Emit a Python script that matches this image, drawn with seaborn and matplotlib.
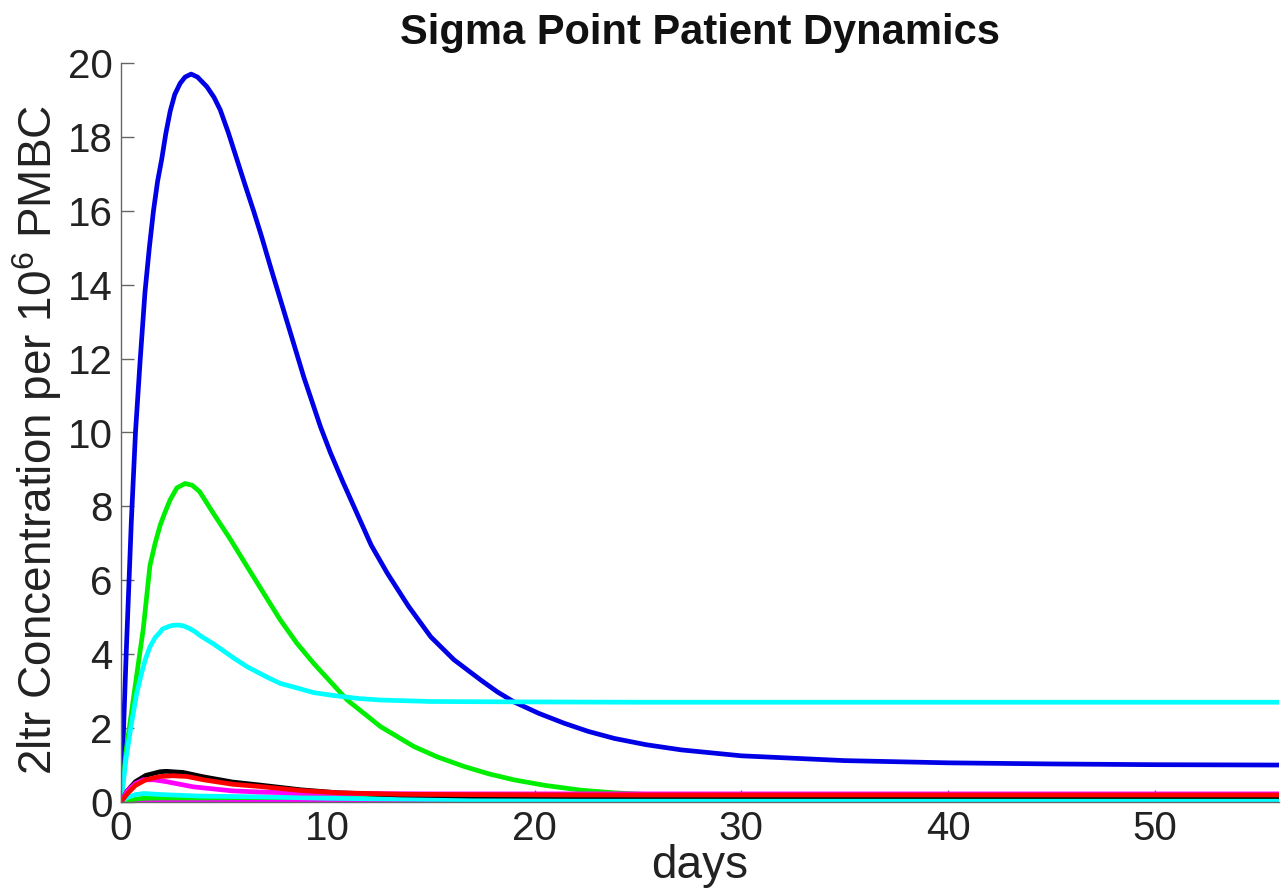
import numpy as np
import pandas as pd
import matplotlib
matplotlib.use("Agg")
import matplotlib.pyplot as plt
import seaborn as sns

# ---- data ----
t_blue = [0, 0.25, 0.5, 0.7, 0.92, 1.16, 1.37, 1.57, 1.77, 1.97, 2.17, 2.38, 2.6, 2.86, 3.1,
          3.39, 3.7, 4.15, 4.5, 4.8, 5.2, 5.6, 6.0, 6.41, 6.8, 7.22, 8.03, 8.84, 9.65, 10.13,
          10.7, 11.42, 12.1, 12.88, 13.9, 14.98, 16.1, 17.4, 18.2, 19.0, 20.2, 21.44, 22.6,
          23.86, 25.4, 27.1, 30, 35, 40, 45, 50, 56]
v_blue = [0, 4.0, 7.6, 10.0, 11.9, 13.8, 15.0, 16.0, 16.8, 17.4, 18.1, 18.7, 19.15, 19.45, 19.62,
          19.7, 19.62, 19.36, 19.07, 18.73, 18.1, 17.4, 16.7, 16.0, 15.3, 14.5, 13.0, 11.5, 10.15, 9.45,
          8.7, 7.8, 6.95, 6.19, 5.3, 4.47, 3.85, 3.3, 2.98, 2.71, 2.4, 2.13, 1.91,
          1.72, 1.55, 1.41, 1.25, 1.12, 1.06, 1.03, 1.01, 1.0]

t_green = [0, 0.25, 0.6, 1.08, 1.4, 1.65, 1.9, 2.1, 2.37, 2.7, 3.1, 3.45, 3.8, 4.47, 5.3, 6.1,
           6.9, 7.7, 8.5, 9.32, 10.94, 12.55, 14.17, 15.3, 16.6, 17.8, 19.0, 20.5, 22.25, 23.8,
           25.5, 28, 30, 40, 56]
v_green = [0, 1.4, 2.8, 4.7, 6.4, 7.0, 7.5, 7.8, 8.17, 8.5, 8.62, 8.57, 8.4, 7.81, 7.1, 6.37,
           5.65, 4.93, 4.3, 3.75, 2.76, 2.04, 1.5, 1.22, 0.96, 0.76, 0.6, 0.45, 0.32, 0.25,
           0.2, 0.17, 0.16, 0.15, 0.15]

t_cyan = [0, 0.25, 0.5, 0.76, 1.0, 1.2, 1.4, 1.65, 1.9, 2.0, 2.3, 2.5, 2.75, 3.0, 3.3, 3.55,
          3.83, 4.47, 5.44, 6.1, 7.06, 7.7, 8.68, 9.32, 10.3, 11.5, 12.55, 15, 19, 25, 56]
v_cyan = [0, 1.2, 2.1, 2.94, 3.5, 3.9, 4.2, 4.45, 4.6, 4.68, 4.75, 4.78, 4.79, 4.77, 4.7, 4.62,
          4.5, 4.28, 3.9, 3.66, 3.38, 3.21, 3.06, 2.96, 2.88, 2.8, 2.76, 2.72, 2.71, 2.7, 2.7]

t_black = [0, 0.3, 0.7, 1.2, 1.9, 2.2, 3.0, 4.0, 5.4, 6.7, 8.7, 10.5, 13.5, 17, 22, 30, 56]
v_black = [0, 0.3, 0.55, 0.72, 0.82, 0.83, 0.8, 0.68, 0.54, 0.46, 0.33, 0.25, 0.19, 0.16, 0.15, 0.15, 0.15]

t_red = [0, 0.3, 0.7, 1.2, 1.9, 2.5, 3.2, 4.0, 5.4, 6.7, 8.7, 10.5, 13.5, 17, 22, 30, 56]
v_red = [0, 0.22, 0.45, 0.6, 0.69, 0.71, 0.69, 0.6, 0.48, 0.42, 0.31, 0.25, 0.21, 0.2, 0.19, 0.19, 0.19]

t_mag = [0, 0.3, 0.7, 1.08, 1.6, 2.2, 3.5, 5.4, 6.7, 8.7, 11, 15, 20, 56]
v_mag = [0, 0.3, 0.5, 0.6, 0.6, 0.55, 0.41, 0.3, 0.27, 0.24, 0.23, 0.22, 0.22, 0.22]

t_cyan_low = [0, 0.3, 0.7, 1.1, 2, 3.8, 6.7, 10, 15, 20, 30, 56]
v_cyan_low = [0, 0.12, 0.2, 0.23, 0.2, 0.16, 0.14, 0.1, 0.07, 0.05, 0.03, 0.03]

t_green_low = [0, 0.3, 0.7, 1.1, 2, 3.8, 6.7, 10, 20, 56]
v_green_low = [0, 0.04, 0.08, 0.1, 0.11, 0.11, 0.12, 0.12, 0.12, 0.12]

t_mag_low = [0, 1, 2, 4, 7, 12, 20, 56]
v_mag_low = [0, 0.01, 0.02, 0.03, 0.04, 0.04, 0.04, 0.04]

x_ticks = [0, 10, 20, 30, 40, 50]
y_ticks = [0, 2, 4, 6, 8, 10, 12, 14, 16, 18, 20]

series = [
    ("mag_low", t_mag_low, v_mag_low, "#ff00ff"),
    ("green_low", t_green_low, v_green_low, "#00ee00"),
    ("cyan_low", t_cyan_low, v_cyan_low, "#00ffff"),
    ("blue", t_blue, v_blue, "#0000e6"),
    ("green", t_green, v_green, "#00ee00"),
    ("cyan", t_cyan, v_cyan, "#00ffff"),
    ("black", t_black, v_black, "#000000"),
    ("mag", t_mag, v_mag, "#ff00ff"),
    ("red", t_red, v_red, "#ff0000"),
]

frames = []
for name, t, v, _ in series:
    frames.append(pd.DataFrame({"t": t, "v": v, "s": name}))
df = pd.concat(frames, ignore_index=True)
palette = {name: c for name, _, _, c in series}

sns.set_style("ticks")
plt.rcParams["font.family"] = ["Liberation Sans", "DejaVu Sans"]
plt.rcParams["mathtext.default"] = "regular"

fig = plt.figure(figsize=(12.88, 8.96), dpi=100)
ax = fig.add_axes([121 / 1288, 1 - 802 / 896, (1279 - 121) / 1288, (802 - 63) / 896])

sns.lineplot(data=df, x="t", y="v", hue="s", hue_order=[s[0] for s in series],
             palette=palette, estimator=None, sort=False, linewidth=3.4,
             legend=False, ax=ax)

ax.set_xlim(0, 56)
ax.set_ylim(0, 20)
ax.set_xticks(x_ticks)
ax.set_yticks(y_ticks)
ax.tick_params(direction="in", length=9, width=1, color="#666666",
               labelsize=29, labelcolor="#222222", pad=6)
for side in ["top", "right"]:
    ax.spines[side].set_visible(False)
for side in ["left", "bottom"]:
    ax.spines[side].set_color("#666666")
    ax.spines[side].set_linewidth(1)

ax.set_xlabel("days", fontsize=33, color="#222222", labelpad=-3)
ax.set_ylabel("2ltr Concentration per $10^6$ PMBC", fontsize=33, color="#222222")
ax.yaxis.set_label_coords(-0.049, 0.49)
ax.set_title("Sigma Point Patient Dynamics", fontsize=30, fontweight="bold",
             color="#111111", pad=14)

fig.savefig("out.png", dpi=100)
